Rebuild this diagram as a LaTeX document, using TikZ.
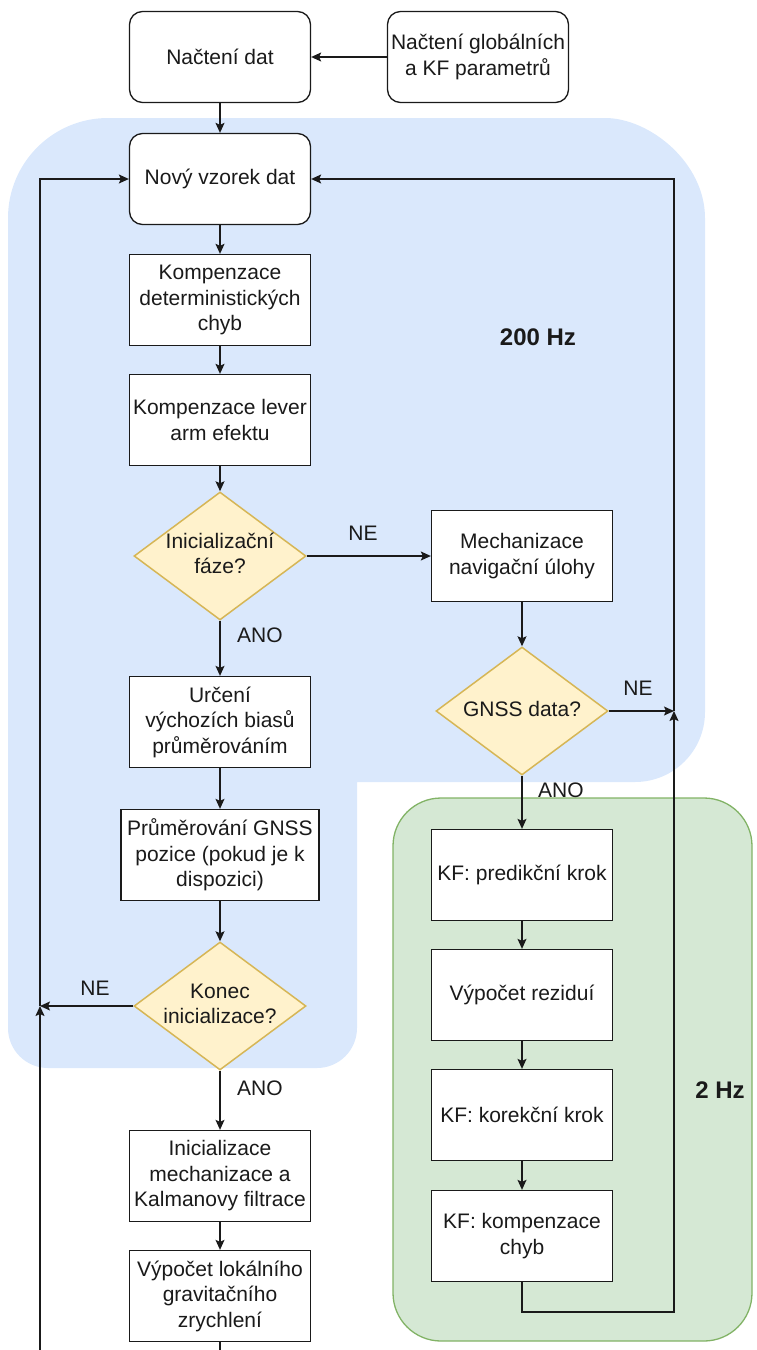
\documentclass[tikz,border=0pt]{standalone}
\usepackage{fontspec}
\setmainfont{Liberation Sans}
\usetikzlibrary{arrows.meta,shapes.geometric}
\definecolor{bluebg}{HTML}{DAE8FC}
\definecolor{greenbg}{HTML}{D5E8D4}
\definecolor{greenln}{HTML}{82B366}
\definecolor{yelbg}{HTML}{FFF2CC}
\definecolor{yelln}{HTML}{D6B656}
\definecolor{ink}{HTML}{1A1A1A}
\newcommand{\dtext}[1]{\makebox[0pt]{\begin{tabular}{@{}c@{}}#1\end{tabular}}}
\begin{document}
\begin{tikzpicture}[x=1pt,y=-1pt,
  every node/.style={font=\fontsize{21}{25.5}\selectfont, text=ink},
  box/.style={draw=ink, line width=1.3pt, fill=white, minimum width=181pt, minimum height=91pt, align=center, inner sep=2pt},
  rbox/.style={box, rounded corners=13pt},
  dia/.style={diamond, draw=yelln, line width=1.5pt, fill=yelbg, minimum width=172pt, minimum height=128pt, inner sep=0pt},
  conn/.style={draw=ink, line width=1.3pt, -{Stealth[length=10pt,width=9pt,inset=2pt]}},
  plain/.style={draw=ink, line width=1.3pt},
  lbl/.style={inner sep=0pt},
  hz/.style={font=\fontsize{24}{28}\selectfont\bfseries}
]
\useasboundingbox (0,0) rectangle (756,1350);
% background regions
\fill[bluebg] (8,218) .. controls (8,162.8) and (52.8,118) .. (108,118)
  -- (605,118) .. controls (649.8,118) and (705,162.8) .. (705,218)
  -- (705,712) .. controls (705,750.7) and (673.7,782) .. (635,782)
  -- (357,782) -- (357,1028) .. controls (357,1050.1) and (339.1,1068) .. (317,1068)
  -- (48,1068) .. controls (25.9,1068) and (8,1050.1) .. (8,1028) -- cycle;
\filldraw[fill=greenbg, draw=greenln, line width=1.3pt, rounded corners=48pt] (393,798) rectangle (752,1341);

% nodes
\node[rbox] (nacteni) at (220,57) {Načtení dat};
\node[rbox] (glob) at (478,57) {Načtení globálních\\a KF parametrů};
\node[rbox] (novy) at (220,179) {Nový vzorek dat};
\node[box] (komp1) at (220,300) {Kompenzace\\deterministických\\chyb};
\node[box] (komp2) at (220,420) {Kompenzace lever\\arm efektu};
\node[dia] (d1) at (220,556) {\dtext{Inicializační\\fáze?}};
\node[box] (mech) at (522,556) {Mechanizace\\navigační úlohy};
\node[dia] (d2) at (522,711) {\dtext{GNSS data?}};
\node[box] (urceni) at (220,722) {Určení\\výchozích biasů\\průměrováním};
\node[box, minimum width=198pt] (prum) at (220,855) {Průměrování GNSS\\pozice (pokud je k\\dispozici)};
\node[dia] (d3) at (220,1006) {\dtext{Konec\\inicializace?}};
\node[box] (inic) at (220,1176) {Inicializace\\mechanizace a\\Kalmanovy filtrace};
\node[box] (vyp) at (220,1296) {Výpočet lokálního\\gravitačního\\zrychlení};
\node[box] (kf1) at (522,875) {KF: predikční krok};
\node[box] (kf2) at (522,995) {Výpočet reziduí};
\node[box] (kf3) at (522,1115) {KF: korekční krok};
\node[box] (kf4) at (522,1236) {KF: kompenzace\\chyb};

\node[hz] (hz200) at (538,337) {200 Hz};
\node[hz] (hz2) at (720,1090) {2 Hz};

% labels
\node[lbl] (ne1) at (363,533) {NE};
\node[lbl, anchor=west] (ano1) at (237,635) {ANO};
\node[lbl] (ne2) at (638,688) {NE};
\node[lbl, anchor=west] (ano2) at (538,790) {ANO};
\node[lbl] (ne3) at (95,988) {NE};
\node[lbl, anchor=west] (ano3) at (237,1088) {ANO};

% coordinates
\coordinate (j1) at (40,1006);
\coordinate (b1) at (40,1350);
\coordinate (j2) at (674,711);
\coordinate (c2) at (674,1312);
\coordinate (b2) at (220,1350);

% connectors
\draw[conn] (glob.west) -- (nacteni.east);
\draw[conn] (nacteni.south) -- (novy.north);
\draw[conn] (novy.south) -- (komp1.north);
\draw[conn] (komp1.south) -- (komp2.north);
\draw[conn] (komp2.south) -- (d1.north);
\draw[conn] (d1.east) -- (mech.west);
\draw[conn] (d1.south) -- (urceni.north);
\draw[conn] (urceni.south) -- (prum.north);
\draw[conn] (prum.south) -- (d3.north);
\draw[conn] (d3.west) -- (j1);
\draw[conn] (b1) -- (j1);
\draw[conn] (j1) |- (novy.west);
\draw[conn] (d3.south) -- (inic.north);
\draw[conn] (inic.south) -- (vyp.north);
\draw[plain] (vyp.south) -- (b2);
\draw[conn] (mech.south) -- (d2.north);
\draw[conn] (d2.east) -- (j2);
\draw[conn] (d2.south) -- (kf1.north);
\draw[conn] (kf1.south) -- (kf2.north);
\draw[conn] (kf2.south) -- (kf3.north);
\draw[conn] (kf3.south) -- (kf4.north);
\draw[conn] (kf4.south) |- (c2) -- (j2);
\draw[conn] (j2) |- (novy.east);
\end{tikzpicture}
\end{document}
